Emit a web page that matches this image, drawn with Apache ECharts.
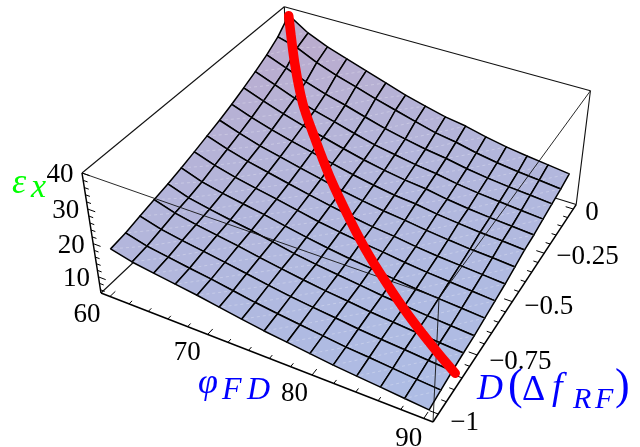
<!DOCTYPE html>
<html><head><meta charset="utf-8"><style>html,body{margin:0;background:#fff}#c{width:640px;height:447px}</style>
<script src="https://cdn.jsdelivr.net/npm/echarts@6/dist/echarts.min.js"></script></head><body><div id="c"></div>
<script>
const phiValues=[60,62.14,64.29,66.43,68.57,70.71,72.86,75,77.14,79.29,81.43,83.57,85.71,87.86,90];
const dValues=[0,-0.0714,-0.1429,-0.2143,-0.2857,-0.3571,-0.4286,-0.5,-0.5714,-0.6429,-0.7143,-0.7857,-0.8571,-0.9286,-1];
const zRows=[
[39.2,35.4,32.8,30.8,28.8,26.8,24.8,23.2,21.7,20.7,19.2,18.0,17.1,16.3,15.5],
[35.5,33.8,31.0,28.8,27.0,25.1,23.4,21.7,20.1,19.1,17.7,16.6,15.8,15.2,14.5],
[33.0,30.7,28.2,26.2,24.6,22.8,21.1,19.7,18.5,17.6,16.4,15.5,14.8,14.3,13.7],
[31.0,28.7,26.4,24.4,22.8,21.1,19.5,18.4,17.3,16.5,15.4,14.6,14.0,13.4,12.9],
[29.2,27.0,24.9,23.1,21.5,19.9,18.4,17.2,16.2,15.5,14.4,13.6,13.0,12.5,12.0],
[27.5,25.3,23.4,21.8,20.4,18.9,17.5,16.3,15.3,14.7,13.7,13.0,12.4,12.0,11.5],
[26.0,23.9,22.0,20.6,19.2,17.8,16.4,15.3,14.3,13.6,12.7,12.0,11.4,11.0,10.5],
[24.7,22.6,20.9,19.5,18.1,16.8,15.5,14.4,13.4,12.7,11.8,11.1,10.6,10.1,9.6],
[23.4,21.3,19.7,18.4,17.2,15.9,14.6,13.6,12.7,12.0,11.1,10.4,9.9,9.4,8.9],
[22.2,20.0,18.6,17.5,16.4,15.1,13.9,12.8,11.9,11.2,10.4,9.7,9.2,8.7,8.2],
[21.1,19.0,17.7,16.6,15.6,14.4,13.1,12.1,11.3,10.5,9.7,9.1,8.5,8.0,7.5],
[20.2,18.3,17.0,16.0,15.0,13.8,12.7,11.7,10.8,10.1,9.3,8.7,8.1,7.6,7.1],
[19.2,17.4,16.3,15.3,14.3,13.2,12.1,11.1,10.3,9.6,8.8,8.2,7.7,7.1,6.6],
[18.2,16.5,15.5,14.5,13.6,12.5,11.4,10.5,9.7,8.9,8.1,7.6,7.0,6.4,5.9],
[17.6,16.0,15.0,14.1,13.2,12.1,11.0,10.0,9.2,8.4,7.6,7.0,6.4,5.8,5.2]
];
const redPhi=[60,62.4,65.1,67.5,71.2,75.1,78.5,82.05,84.95,88.2,90.3];
const redD=[0,-0.104,-0.211,-0.289,-0.404,-0.514,-0.606,-0.69,-0.756,-0.821,-0.86];
const redZ=[39,30.7,25.3,22.1,17.8,14.2,11.95,9.9,8.7,7.3,6.5];
const phiTicks=[60,62,64,66,68,70,72,74,76,78,80,82,84,86,88,90];
const phiLabels=[60,70,80,90];
const dTicks=[0,-0.05,-0.1,-0.15,-0.2,-0.25,-0.3,-0.35,-0.4,-0.45,-0.5,-0.55,-0.6,-0.65,-0.7,-0.75,-0.8,-0.85,-0.9,-0.95,-1];
const dLabels=[[0,'0'],[-0.25,'\u22120.25'],[-0.5,'\u22120.5'],[-0.75,'\u22120.75'],[-1,'\u22121']];
const zTicks=[6,8,10,12,14,16,18,20,22,24,26,28,30,32,34,36,38,40];
const zLabels=[10,20,30,40];

// perspective camera of the 3D box
const cam={ax:[101,288.21,246.8,-24.6],ay:[293,86.32,-153.5,-131.82],g:[-0.10114,0.205,-0.06833]};
function proj(u,v,w){const d=1+cam.g[0]*u+cam.g[1]*v+cam.g[2]*w;
 return [(cam.ax[0]+cam.ax[1]*u+cam.ax[2]*v+cam.ax[3]*w)/d,(cam.ay[0]+cam.ay[1]*u+cam.ay[2]*v+cam.ay[3]*w)/d];}
const U=p=>0.03+(p-60)/30*0.945, V=d=>0.03+(d+1)*0.945, W=z=>(z-5)/35;
const surf=(i,j)=>proj(U(phiValues[i]),V(dValues[j]),W(zRows[j][i]));

const cells=[];for(let j=0;j<14;j++)for(let i=0;i<14;i++)cells.push([i,j]);
const pal=z=>{const t=Math.min(1,Math.max(0,(z-6)/33));
 const c=[174+14*t,188-18*t,228-25*t].map(Math.round);return `rgb(${c})`};

const backEdges=[[[0,0,0],[0,1,0]],[[0,1,0],[1,1,0]],[[0,1,0],[0,1,1]],[[0,0,1],[0,1,1]],[[0,1,1],[1,1,1]],[[1,1,1],[1,1,0]]];
const frontEdges=[[[0,0,1],[1,0,1]],[[1,0,1],[1,1,1]],[[1,0,1],[1,0,0]]];
const axisEdges=[[[0,0,1],[0,0,0]],[[0,0,0],[1,0,0]],[[1,0,0],[1,1,0]]];
const seg=(a,b,lw,col,dash)=>({type:'line',shape:{x1:a[0],y1:a[1],x2:b[0],y2:b[1]},style:{stroke:col,lineWidth:lw,lineDash:dash||null},silent:true});
const C=(api,p)=>api.coord(p);
function edgeSeries(name,edges,lw,col,z){return {name,type:'custom',coordinateSystem:'cartesian2d',z,silent:true,clip:false,
 data:edges.map((_,k)=>[k]),
 renderItem(p,api){const e=edges[p.dataIndex];return seg(C(api,proj(...e[0])),C(api,proj(...e[1])),lw,col);}};}

const tickItems=[];
phiTicks.forEach(t=>{const m=t%10===0;tickItems.push({a:[U(t),0,0],b:[U(t),m?0.024:0.014,0]});});
dTicks.forEach(t=>{const m=Math.abs(t*4-Math.round(t*4))<1e-6;tickItems.push({a:[1,V(t),0],b:[m?0.976:0.986,V(t),0]});});
zTicks.forEach(t=>{const m=t%10===0;tickItems.push({a:[0,0,W(t)],b:[m?0.024:0.014,0,W(t)]});});

const textItems=[];
const numFont='27px "Liberation Serif"';
phiLabels.forEach(t=>textItems.push({at:[U(t),0,0],dx:-23+(t-60)/30*8,dy:18+(t-60)/30*2,text:String(t),align:'center'}));
const dLabelShift=[4,4,5,7,9];
dLabels.forEach((l,k)=>textItems.push({at:[1,V(l[0]),0],dx:12,dy:dLabelShift[k],text:l[1],align:'left'}));
zLabels.forEach(t=>textItems.push({at:[0,0,W(t)],dx:-22,dy:2,text:String(t),align:'center'}));

const T=(text,x,base,size,fill,italic)=>({type:'text',silent:true,z:50,style:{text,x,y:base-0.34*size,font:(italic?'italic ':'')+size+'px "Liberation Serif"',fill,verticalAlign:'middle'}});
const G='#00ff00',BL='#0000ff';
const titleParts=[
 T('\u03b5',12,196,36,G,true),T('x',31,200,34,G,true),
 T('\u03c6',198,396,36,BL,true),T('F',222,401,32,BL,true),T('D',247,401,32,BL,true),
 T('D',477,402,36,BL,true),T('(',508,402,44,BL,false),T('\u0394',522,403,36,BL,false),
 T('f',552,402,38,BL,true),T('R',573,410,30,BL,true),T('F',595,410,30,BL,true),T(')',615,402,44,BL,false)
];

const chart=echarts.init(document.getElementById('c'),null,{renderer:'canvas'});
chart.setOption({animation:false,backgroundColor:'#fff',
 grid:{left:0,right:0,top:0,bottom:0},
 xAxis:{type:'value',min:0,max:640,show:false},
 yAxis:{type:'value',min:0,max:447,inverse:true,show:false},
 graphic:titleParts,
 series:[
  edgeSeries('box back',backEdges,1.1,'#111',1),
  {name:'surface',type:'custom',coordinateSystem:'cartesian2d',z:2,silent:true,clip:false,data:cells,
   renderItem(p,api){const i=api.value(0),j=api.value(1);
    const a=C(api,surf(i,j)),b=C(api,surf(i+1,j)),c=C(api,surf(i+1,j+1)),d=C(api,surf(i,j+1));
    const zm=(zRows[j][i]+zRows[j][i+1]+zRows[j+1][i]+zRows[j+1][i+1])/4;
    return {type:'group',children:[
     {type:'polygon',shape:{points:[a,b,c,d]},style:{fill:pal(zm),stroke:'#000',lineWidth:1.5,lineJoin:'round'}},
     seg(b,d,0.8,'rgba(255,255,255,0.32)',[3,3])
    ]};}},
  edgeSeries('box front',frontEdges,0.9,'#111',3),
  edgeSeries('axes',axisEdges,1.5,'#000',4),
  {name:'ticks',type:'custom',coordinateSystem:'cartesian2d',z:4,silent:true,clip:false,data:tickItems.map((_,k)=>[k]),
   renderItem(p,api){const t=tickItems[p.dataIndex];return seg(C(api,proj(...t.a)),C(api,proj(...t.b)),1,'#000');}},
  {name:'tick labels',type:'custom',coordinateSystem:'cartesian2d',z:5,silent:true,clip:false,data:textItems.map((_,k)=>[k]),
   renderItem(p,api){const t=textItems[p.dataIndex],q=C(api,proj(...t.at));
    return {type:'text',style:{text:t.text,x:q[0]+t.dx,y:q[1]+t.dy,font:numFont,fill:'#000',align:t.align,verticalAlign:'middle'}};}},
  {name:'red curve',type:'line',z:6,silent:true,clip:false,showSymbol:false,smooth:0.3,
   data:redPhi.map((p,k)=>proj(U(p),V(redD[k]),W(redZ[k]))),
   lineStyle:{color:'#ff0000',width:9.5,cap:'round',join:'round'}}
 ]});
</script></body></html>
